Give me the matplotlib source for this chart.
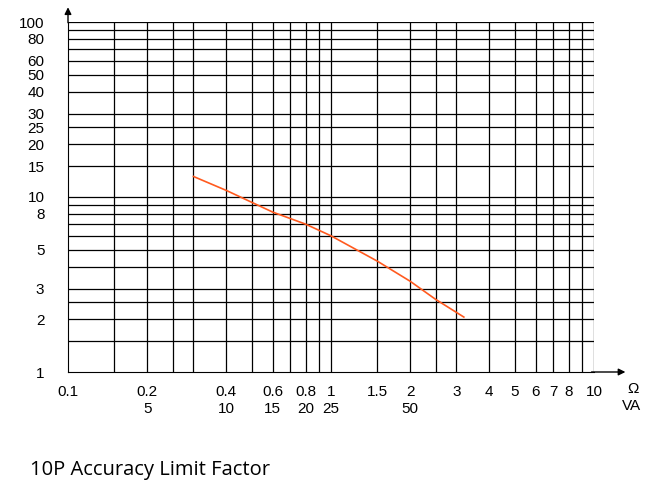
import matplotlib
matplotlib.use("Agg")
import matplotlib.pyplot as plt

plt.rcParams["font.family"] = ["Liberation Sans", "DejaVu Sans"]

# grid positions (log-log chart paper)
x_grid = [0.15, 0.2, 0.25, 0.3, 0.4, 0.5, 0.6, 0.7, 0.8, 0.9, 1, 1.5, 2, 2.5, 3,
          4, 5, 6, 7, 8, 9, 10]
y_grid = [1.5, 2, 2.5, 3, 4, 5, 6, 7, 8, 9, 10, 15, 20, 25, 30, 40, 50, 60, 70,
          80, 90, 100]

x_ticks = [0.1, 0.2, 0.4, 0.6, 0.8, 1, 1.5, 2, 3, 4, 5, 6, 7, 8, 10]
x_labels = ["0.1", "0.2", "0.4", "0.6", "0.8", "1", "1.5", "2", "3", "4", "5",
            "6", "7", "8", "10"]
va_ticks = [0.2, 0.4, 0.6, 0.8, 1, 2]
va_labels = ["5", "10", "15", "20", "25", "50"]
y_ticks = [1, 2, 3, 5, 8, 10, 15, 20, 25, 30, 40, 50, 60, 80, 100]

# curve
ohm = [0.3, 0.4, 0.6, 0.8, 1.0, 1.5, 2.0, 2.5, 3.2]
alf = [13.1, 10.9, 8.2, 7.0, 6.0, 4.3, 3.3, 2.6, 2.06]

W, H = 655, 490
fig = plt.figure(figsize=(W / 100, H / 100), dpi=100)
ax = fig.add_axes([68 / W, 1 - 372 / H, (594 - 68) / W, (372 - 22) / H])
ax.set_xscale("log")
ax.set_yscale("log")
ax.set_xlim(0.1, 10)
ax.set_ylim(1, 100)

for x in x_grid:
    ax.axvline(x, color="black", lw=0.9)
for y in y_grid:
    ax.axhline(y, color="black", lw=0.9)

ax.plot(ohm, alf, color="#ff5a1f", lw=1.2)

for s in ["top", "right"]:
    ax.spines[s].set_visible(False)

ax.set_xticks(x_ticks)
ax.set_xticklabels(x_labels)
ax.xaxis.set_minor_locator(matplotlib.ticker.NullLocator())
ax.set_yticks(y_ticks)
ax.set_yticklabels([str(v) for v in y_ticks])
ax.yaxis.set_minor_locator(matplotlib.ticker.NullLocator())
ax.tick_params(length=0, labelsize=11, pad=9)
ax.tick_params(axis="y", pad=17)

for x, t in zip(va_ticks, va_labels):
    ax.text(x, -0.105, t, transform=ax.get_xaxis_transform(), ha="center",
            va="center", fontsize=11)

# axis arrows
ax.annotate("", xy=(0, 1.05), xytext=(0, 0.99), xycoords="axes fraction",
            arrowprops=dict(arrowstyle="-|>", color="black", lw=1.0))
ax.annotate("", xy=(1.065, 0), xytext=(0.99, 0), xycoords="axes fraction",
            arrowprops=dict(arrowstyle="-|>", color="black", lw=1.0))
fig.text(633 / W, 1 - 389 / H, "Ω", ha="center", va="center", fontsize=11)
fig.text(632 / W, 1 - 406 / H, "VA", ha="center", va="center", fontsize=11)

fig.text(30 / W, 1 - 470 / H, "10P Accuracy Limit Factor", ha="left",
         va="center", fontsize=14.5, family="Open Sans")

fig.savefig("out.png", dpi=100)
